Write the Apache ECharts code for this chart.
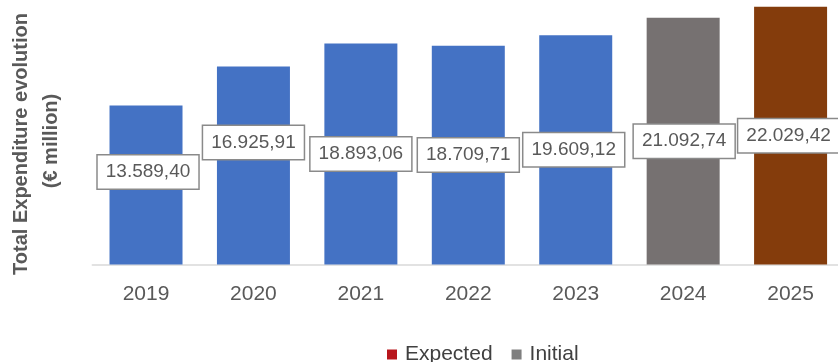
<!DOCTYPE html>
<html>
<head>
<meta charset="utf-8">
<script src="https://cdn.jsdelivr.net/npm/echarts@6/dist/echarts.min.js"></script>
<style>
  html, body { margin: 0; padding: 0; background: #fff; }
  #chart { width: 838px; height: 362px; }
</style>
</head>
<body>
<div id="chart"></div>
<script>
// Yearly totals, € million
const years = ['2019', '2020', '2021', '2022', '2023', '2024', '2025'];
const executed = [13589.40, 16925.91, 18893.06, 18709.71, 19609.12, null, null];
const initial = [null, null, null, null, null, 21092.74, null];
const expected = [null, null, null, null, null, null, 22029.42];

// Label nudges (px) for the two shorter bars
const labelShift = [[2, -13], [0, -23], [0, 0], [0, 0], [-2, 0], [1, 0], [-2, 0]];

const fmt = v => v.toLocaleString('de-DE', { minimumFractionDigits: 2, maximumFractionDigits: 2 });

const labelBase = {
  show: true,
  position: 'inside',
  formatter: p => fmt(p.value),
  fontFamily: 'Liberation Sans, Arial, sans-serif',
  fontSize: 19,
  lineHeight: 19,
  color: '#595959',
  backgroundColor: '#ffffff',
  borderColor: '#8a8a8a',
  borderWidth: 1.5,
  padding: [7, 8, 7, 8]
};

function toData(arr) {
  return arr.map((v, i) => v == null ? '-' : {
    value: v,
    label: { offset: labelShift[i] }
  });
}

const chart = echarts.init(document.getElementById('chart'), null, { renderer: 'canvas' });

chart.setOption({
  animation: false,
  backgroundColor: '#ffffff',
  grid: {
    left: 92.3, top: 0, width: 752, height: 264.5,
    containLabel: false,
    outerBoundsMode: 'none'
  },
  xAxis: {
    type: 'category',
    data: years,
    axisLine: { show: true, lineStyle: { color: '#d9d9d9', width: 1.5 } },
    axisTick: { show: false },
    axisLabel: {
      margin: 19,
      fontFamily: 'Liberation Sans, Arial, sans-serif',
      fontSize: 21,
      lineHeight: 22,
      color: '#595959'
    }
  },
  yAxis: {
    type: 'value',
    min: 0,
    max: 22615,
    axisLine: { show: false },
    axisTick: { show: false },
    axisLabel: { show: false },
    splitLine: { show: false }
  },
  legend: {
    left: 382,
    top: 339,
    itemWidth: 10,
    itemHeight: 10,
    itemGap: 19,
    icon: 'rect',
    textStyle: {
      fontFamily: 'Liberation Sans, Arial, sans-serif',
      fontSize: 21,
      color: '#404040',
      padding: [0, 0, 0, 3]
    },
    data: [
      { name: 'Expected', itemStyle: { color: '#b8161c' } },
      { name: 'Initial', itemStyle: { color: '#7f7f7f' } }
    ]
  },
  graphic: [
    {
      type: 'text',
      x: 21, y: 144,
      rotation: Math.PI / 2,
      style: {
        text: 'Total Expenditure evolution',
        fontFamily: 'Liberation Sans, Arial, sans-serif',
        fontWeight: 'bold',
        fontSize: 20,
        fill: '#595959',
        textAlign: 'center',
        textVerticalAlign: 'middle'
      }
    },
    {
      type: 'text',
      x: 51, y: 141,
      rotation: Math.PI / 2,
      style: {
        text: '(€ million)',
        fontFamily: 'Liberation Sans, Arial, sans-serif',
        fontWeight: 'bold',
        fontSize: 20,
        fill: '#595959',
        textAlign: 'center',
        textVerticalAlign: 'middle'
      }
    }
  ],
  series: [
    {
      name: 'Executed',
      type: 'bar',
      stack: 'total',
      barWidth: 73,
      itemStyle: { color: '#4472c4' },
      label: labelBase,
      data: toData(executed)
    },
    {
      name: 'Initial',
      type: 'bar',
      stack: 'total',
      barWidth: 73,
      itemStyle: { color: '#767171' },
      label: labelBase,
      data: toData(initial)
    },
    {
      name: 'Expected',
      type: 'bar',
      stack: 'total',
      barWidth: 73,
      itemStyle: { color: '#843c0c' },
      label: labelBase,
      data: toData(expected)
    }
  ]
});
</script>
</body>
</html>
